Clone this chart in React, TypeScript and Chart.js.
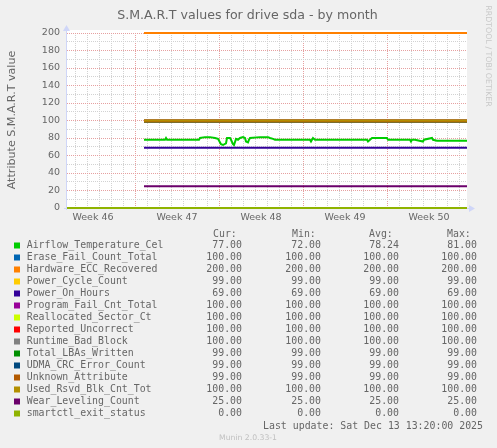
import React, { useEffect, useRef } from 'react';
import { Chart, registerables } from 'chart.js';

Chart.register(...registerables);

const W = 497;
const H = 448;

// ---- data ----
const seriesNames = [
  'Airflow_Temperature_Cel',
  'Erase_Fail_Count_Total',
  'Hardware_ECC_Recovered',
  'Power_Cycle_Count',
  'Power_On_Hours',
  'Program_Fail_Cnt_Total',
  'Reallocated_Sector_Ct',
  'Reported_Uncorrect',
  'Runtime_Bad_Block',
  'Total_LBAs_Written',
  'UDMA_CRC_Error_Count',
  'Unknown_Attribute',
  'Used_Rsvd_Blk_Cnt_Tot',
  'Wear_Leveling_Count',
  'smartctl_exit_status',
];
const seriesColors = [
  '#00CC00', '#0066B3', '#FF8000', '#FFCC00', '#330099',
  '#990099', '#CCFF00', '#FF0000', '#808080', '#008F00',
  '#00487D', '#B35A00', '#B38F00', '#6B006B', '#8FB300',
];
const curValues = [77, 100, 200, 99, 69, 100, 100, 100, 100, 99, 99, 99, 100, 25, 0];
const minValues = [72, 100, 200, 99, 69, 100, 100, 100, 100, 99, 99, 99, 100, 25, 0];
const avgValues = [78.24, 100, 200, 99, 69, 100, 100, 100, 100, 99, 99, 99, 100, 25, 0];
const maxValues = [81, 100, 200, 99, 69, 100, 100, 100, 100, 99, 99, 99, 100, 25, 0];

// constant-level series (index 0 uses the airflow arrays instead)
const levelValues = [0, 100, 200, 99, 69, 100, 100, 100, 100, 99, 99, 99, 100, 25, 0];
const seriesStartHours = [154, 154, 154, 154, 154, 154, 154, 154, 154, 154, 154, 154, 154, 154, 0];
const endHour = 800;

// Airflow temperature (hours since graph start, value)
const airflowHours = [
  154, 196, 198, 200, 264, 266, 276, 286, 296, 302, 308, 312, 318, 320, 326, 328, 332, 334,
  338, 342, 346, 352, 356, 358, 362, 364, 366, 386, 402, 406, 412, 416, 486, 488, 492, 496,
  600, 602, 610, 640, 642, 686, 688, 690, 696, 712, 714, 730, 732, 740, 800,
];
const airflowValues = [
  78, 78, 80, 78, 78, 80, 81, 81, 80, 79, 73, 72, 74, 80, 80, 78, 73, 72,
  79, 78, 80, 81, 80, 76, 75, 78, 80, 81, 81, 80, 79, 78, 78, 76, 80, 78,
  78, 76, 80, 80, 78, 78, 76, 78, 78, 76, 78, 80, 78, 77, 77,
];

// x axis (hours since graph start)
const weekLabels = ['Week 46', 'Week 47', 'Week 48', 'Week 49', 'Week 50'];
const weekLabelHours = [52, 220, 388, 556, 724];
const weekStartHours = [136, 304, 472, 640];
const dayGridHours = [16, 40, 64, 88, 112, 160, 184, 208, 232, 256, 280, 328, 352, 376, 400, 424, 448, 496, 520, 544, 568, 592, 616, 664, 688, 712, 736, 760, 784];

const yMin = 0;
const yMax = 200;
const yStep = 10;
const yLabelStep = 20;

const titleText = 'S.M.A.R.T values for drive sda - by month';
const yTitleText = 'Attribute S.M.A.R.T value';
const watermarkText = 'RRDTOOL / TOBI OETIKER';
const lastUpdateText = 'Last update: Sat Dec 13 13:20:00 2025';
const versionText = 'Munin 2.0.33-1';
const columnHeaders = ['Cur:', 'Min:', 'Avg:', 'Max:'];

// ---- style ----
const FONT_COLOR = '#666666';
const AXIS_COLOR = '#CFD6F8';
const MINOR_GRID = 'rgb(210,210,210)';
const MAJOR_GRID = 'rgb(230,160,160)';

export default function App() {
  const ref = useRef<HTMLCanvasElement>(null);

  useEffect(() => {
    const canvas = ref.current;
    if (!canvas) return;

    const datasets = seriesNames.map((name, i) => {
      const data =
        i === 0
          ? airflowHours.map((h, k) => ({ x: h, y: airflowValues[k] }))
          : [
              { x: seriesStartHours[i], y: levelValues[i] },
              { x: endHour, y: levelValues[i] },
            ];
      return {
        label: name,
        data,
        borderColor: seriesColors[i],
        backgroundColor: seriesColors[i],
        borderWidth: 2,
        pointRadius: 0,
        pointHoverRadius: 0,
        tension: 0,
        fill: false,
        clip: false as any,
        order: seriesNames.length - i,
      };
    });

    const bgPlugin = {
      id: 'bg',
      beforeDraw(chart: any) {
        const { ctx, chartArea } = chart;
        ctx.save();
        ctx.fillStyle = '#F0F0F0';
        ctx.fillRect(0, 0, W, H);
        ctx.fillStyle = '#FFFFFF';
        ctx.fillRect(chartArea.left, chartArea.top - 3, chartArea.right - chartArea.left, chartArea.bottom - chartArea.top + 3);
        ctx.restore();
      },
      beforeDatasetsDraw(chart: any) {
        const { ctx, chartArea } = chart;
        const { left, right, top, bottom } = chartArea;
        ctx.save();
        ctx.strokeStyle = AXIS_COLOR;
        ctx.fillStyle = AXIS_COLOR;
        ctx.lineWidth = 1;
        ctx.beginPath();
        ctx.moveTo(left - 0.5, bottom + 2);
        ctx.lineTo(left - 0.5, top - 4);
        ctx.moveTo(left - 3, bottom + 0.5);
        ctx.lineTo(right + 3, bottom + 0.5);
        ctx.stroke();
        // arrows
        ctx.beginPath();
        ctx.moveTo(left - 4, top - 2);
        ctx.lineTo(left + 3, top - 2);
        ctx.lineTo(left - 0.5, top - 8);
        ctx.closePath();
        ctx.fill();
        ctx.beginPath();
        ctx.moveTo(right + 2, bottom - 3);
        ctx.lineTo(right + 2, bottom + 4);
        ctx.lineTo(right + 8, bottom + 0.5);
        ctx.closePath();
        ctx.fill();
        ctx.restore();
      },
    };

    const textPlugin = {
      id: 'texts',
      afterDraw(chart: any) {
        const { ctx } = chart;
        ctx.save();
        // title
        ctx.fillStyle = FONT_COLOR;
        ctx.font = '12.6px "DejaVu Sans"';
        ctx.textAlign = 'center';
        ctx.textBaseline = 'alphabetic';
        ctx.fillText(titleText, 247.5, 18.5);
        // y title
        ctx.save();
        ctx.translate(15, 120);
        ctx.rotate(-Math.PI / 2);
        ctx.font = '11.1px "DejaVu Sans"';
        ctx.fillText(yTitleText, 0, 0);
        ctx.restore();
        // watermark
        ctx.save();
        ctx.translate(486, 56);
        ctx.rotate(Math.PI / 2);
        ctx.fillStyle = '#C8C8C8';
        ctx.font = '7.9px "DejaVu Sans"';
        ctx.fillText(watermarkText, 0, 0);
        ctx.restore();
        // legend
        ctx.font = '9.9px "DejaVu Sans Mono"';
        ctx.textBaseline = 'middle';
        const headerX = [213, 292, 369, 447];
        ctx.textAlign = 'left';
        columnHeaders.forEach((h, k) => ctx.fillText(h, headerX[k], 234));
        const colRight = [242, 321, 399, 477];
        seriesNames.forEach((name, i) => {
          const y = 245.7 + 12 * i;
          ctx.fillStyle = seriesColors[i];
          ctx.fillRect(14, Math.round(y) - 3.5, 6, 6);
          ctx.fillStyle = FONT_COLOR;
          ctx.textAlign = 'left';
          ctx.fillText(name, 26.7, y);
          ctx.textAlign = 'right';
          [curValues, minValues, avgValues, maxValues].forEach((arr, k) => {
            ctx.fillText(arr[i].toFixed(2), colRight[k], y);
          });
        });
        ctx.textAlign = 'right';
        ctx.fillText(lastUpdateText, 483, 426);
        // version
        ctx.font = '7.7px "DejaVu Sans"';
        ctx.fillStyle = '#C0C0C0';
        ctx.textAlign = 'center';
        ctx.textBaseline = 'alphabetic';
        ctx.fillText(versionText, 248, 440);
        ctx.restore();
      },
    };

    const isLabelTick = (v: number) => weekLabelHours.includes(v);
    const isMajorX = (v: number) => weekStartHours.includes(v);

    const chart = new Chart(canvas, {
      type: 'line',
      data: { datasets: datasets as any },
      options: {
        responsive: false,
        animation: false,
        devicePixelRatio: 1,
        events: [],
        layout: { padding: { top: 33, right: 30, left: 0, bottom: 0 } },
        plugins: {
          legend: { display: false },
          tooltip: { enabled: false },
          title: { display: false },
        },
        scales: {
          x: {
            type: 'linear',
            min: 0,
            max: endHour,
            afterBuildTicks: (scale: any) => {
              const vals = [...dayGridHours, ...weekStartHours, ...weekLabelHours].sort((a, b) => a - b);
              scale.ticks = vals.map((v) => ({ value: v }));
            },
            afterFit: (scale: any) => {
              scale.height = H - 208;
            },
            grid: {
              drawTicks: false,
              lineWidth: 1,
              color: (c: any) => {
                const v = c.tick ? c.tick.value : 0;
                if (isLabelTick(v)) return 'rgba(0,0,0,0)';
                return isMajorX(v) ? MAJOR_GRID : MINOR_GRID;
              },
            },
            border: { display: false, dash: [1, 1] },
            ticks: {
              autoSkip: false,
              maxRotation: 0,
              minRotation: 0,
              padding: 4,
              color: FONT_COLOR,
              font: { family: 'DejaVu Sans', size: 9.5 },
              callback: (v: any) => {
                const idx = weekLabelHours.indexOf(Number(v));
                return idx >= 0 ? weekLabels[idx] : '';
              },
            },
          },
          y: {
            type: 'linear',
            min: yMin,
            max: yMax,
            afterFit: (scale: any) => {
              scale.width = 67;
            },
            grid: {
              drawTicks: false,
              lineWidth: 1,
              color: (c: any) => {
                const v = c.tick ? c.tick.value : 0;
                return v % yLabelStep === 0 ? MAJOR_GRID : MINOR_GRID;
              },
            },
            border: { display: false, dash: [1, 1] },
            ticks: {
              stepSize: yStep,
              autoSkip: false,
              padding: 7,
              color: FONT_COLOR,
              font: { family: 'DejaVu Sans', size: 9.5 },
              callback: (v: any) => (Number(v) % yLabelStep === 0 ? String(v) : ''),
            },
          },
        },
      },
      plugins: [bgPlugin, textPlugin],
    });

    return () => chart.destroy();
  }, []);

  return (
    <div style={{ position: 'absolute', left: 0, top: 0, width: W, height: H, background: '#F0F0F0' }}>
      <canvas ref={ref} width={W} height={H} style={{ display: 'block', width: W, height: H }} />
    </div>
  );
}
